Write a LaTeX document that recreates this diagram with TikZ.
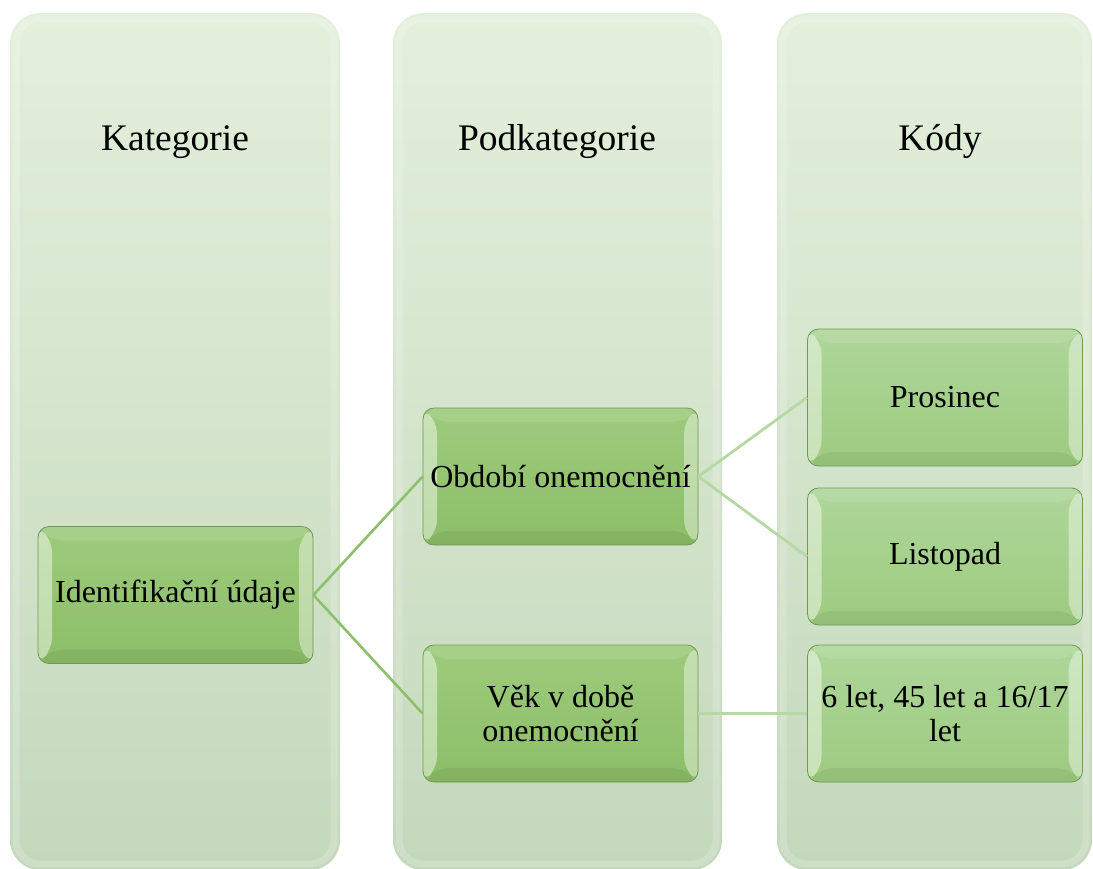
\documentclass[tikz,border=0pt]{standalone}
\usepackage{fontspec}
\setmainfont{Liberation Serif}
\usetikzlibrary{calc}
\definecolor{colTop}{HTML}{E3F0DC}
\definecolor{colBot}{HTML}{C4D8BC}
\definecolor{gTopA}{HTML}{9DCB7C}
\definecolor{gBotA}{HTML}{8CBE68}
\definecolor{gTopB}{HTML}{AED69A}
\definecolor{gBotB}{HTML}{9DCB7F}
\definecolor{gEdge}{HTML}{6F9A55}
\definecolor{connA}{HTML}{8EC06C}
\definecolor{connB}{HTML}{B6D8A2}
\tikzset{
  colbox/.style={rounded corners=30pt, top color=colTop, bottom color=colBot, draw=none},
  colrim/.style={rounded corners=24pt, draw=white, draw opacity=0.18, line width=7pt},
  bevelled/.style={path picture={
      \path (path picture bounding box.north west) coordinate (pnw)
            (path picture bounding box.south east) coordinate (pse);
      \fill[white,opacity=0.45] (pnw) -- ($(pnw)+(14pt,-14pt)$) -- ($(pnw|-pse)+(14pt,14pt)$) -- (pnw|-pse) -- cycle;
      \fill[white,opacity=0.40] (pse|-pnw) -- ($(pse|-pnw)+(-14pt,-14pt)$) -- ($(pse)+(-14pt,14pt)$) -- (pse) -- cycle;
      \fill[white,opacity=0.10] (pnw) -- ($(pnw)+(14pt,-14pt)$) -- ($(pse|-pnw)+(-14pt,-14pt)$) -- (pse|-pnw) -- cycle;
      \fill[black,opacity=0.06] (pnw|-pse) -- ($(pnw|-pse)+(14pt,14pt)$) -- ($(pse)+(-14pt,14pt)$) -- (pse) -- cycle;
  }},
  gbox/.style={draw=gEdge, line width=0.8pt, rounded corners=11pt,
    minimum width=275pt, minimum height=137pt, inner sep=0pt, align=center,
    font=\fontsize{32}{34}\selectfont, bevelled},
  gboxA/.style={gbox, top color=gTopA, bottom color=gBotA},
  gboxB/.style={gbox, top color=gTopB, bottom color=gBotB},
  title/.style={font=\fontsize{37.5}{40}\selectfont, inner sep=0pt},
  connL/.style={draw=connA, line width=2.6pt},
  connR/.style={draw=connB, line width=2.8pt}
}
\begin{document}
\begin{tikzpicture}[x=1pt,y=-1pt]
\useasboundingbox (0,0) rectangle (1093,868);
% columns
\path[colbox] (10,13) rectangle (340,870);
\path[colbox] (393,13) rectangle (722,870);
\path[colbox] (777,13) rectangle (1092,870);
\path[colrim] (16,19) rectangle (334,864);
\path[colrim] (399,19) rectangle (716,864);
\path[colrim] (783,19) rectangle (1086,864);
% titles
\node[title] (kat) at (175,142) {Kategorie};
\node[title] (pod) at (557,142) {Podkategorie};
\node[title] (kod) at (940,142) {Kódy};
% boxes
\node[gboxA] (idn) at (175.5,595) {Identifikační údaje};
\node[gboxA] (obd) at (560.5,476.5) {Období onemocnění};
\node[gboxA] (vek) at (560.5,713.5) {Věk v době\\onemocnění};
\node[gboxB] (pro) at (945,397.5) {Prosinec};
\node[gboxB] (lis) at (945,556.5) {Listopad};
\node[gboxB] (let) at (945,713.5) {6 let, 45 let a 16/17\\let};
% connectors
\draw[connL] (idn.east) -- (obd.west);
\draw[connL] (idn.east) -- (vek.west);
\draw[connR] (obd.east) -- (pro.west);
\draw[connR] (obd.east) -- (lis.west);
\draw[connR] (vek.east) -- (let.west);
\end{tikzpicture}
\end{document}
